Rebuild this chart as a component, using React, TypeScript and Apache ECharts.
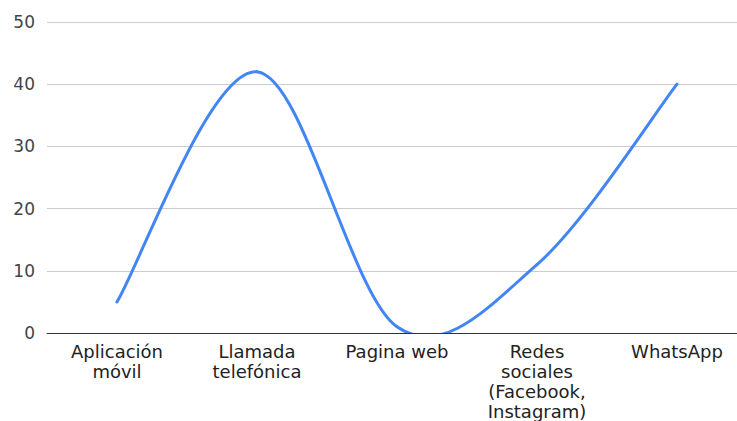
import React, { useEffect, useRef } from "react";
import * as echarts from "echarts";

const categories = [
  "Aplicación\nmóvil",
  "Llamada\ntelefónica",
  "Pagina web",
  "Redes\nsociales\n(Facebook,\nInstagram)",
  "WhatsApp",
];
const values = [5, 42, 1, 11, 40];
const yTicks = { min: 0, max: 50, interval: 10 };

export default function App() {
  const ref = useRef<HTMLDivElement>(null);
  useEffect(() => {
    if (!ref.current) return;
    const chart = echarts.init(ref.current, null, { renderer: "svg" });
    const n = values.length;
    chart.setOption({
      animation: false,
      backgroundColor: "#ffffff",
      grid: { left: 47, top: 22, width: 700, height: 312, containLabel: false },
      xAxis: {
        type: "category",
        data: categories,
        boundaryGap: true,
        axisLine: { show: true, lineStyle: { color: "#333333", width: 1 } },
        axisTick: { show: false },
        axisLabel: {
          interval: 0,
          color: "#222222",
          fontFamily: "DejaVu Sans",
          fontSize: 18,
          lineHeight: 20,
          margin: 8,
        },
        splitLine: { show: false },
        z: 10,
      },
      yAxis: {
        type: "value",
        min: yTicks.min,
        max: yTicks.max,
        interval: yTicks.interval,
        axisLine: { show: false },
        axisTick: { show: false },
        axisLabel: {
          color: "#444444",
          fontFamily: "DejaVu Sans",
          fontSize: 17,
          margin: 12,
        },
        splitLine: { show: true, lineStyle: { color: "#cccccc", width: 1 } },
      },
      series: [
        {
          type: "custom",
          data: values.map((v, i) => [i, v]),
          encode: { x: 0, y: 1 },
          clip: true,
          z: 2,
          renderItem: (params: any, api: any) => {
            const i = params.dataIndex;
            if (i >= n - 1) return { type: "group", children: [] };
            const p = (k: number) => {
              const kk = Math.max(0, Math.min(n - 1, k));
              return api.coord([kk, values[kk]]);
            };
            const p0 = p(i - 1);
            const p1 = p(i);
            const p2 = p(i + 1);
            const p3 = p(i + 2);
            const cs = params.coordSys;
            return {
              type: "bezierCurve",
              shape: {
                x1: p1[0],
                y1: p1[1],
                x2: p2[0],
                y2: p2[1],
                cpx1: p1[0] + (p2[0] - p0[0]) / 6,
                cpy1: p1[1] + (p2[1] - p0[1]) / 6,
                cpx2: p2[0] - (p3[0] - p1[0]) / 6,
                cpy2: p2[1] - (p3[1] - p1[1]) / 6,
              },
              style: { stroke: "#4285f4", lineWidth: 3, fill: null, lineCap: "round" },
              clipPath: {
                type: "rect",
                shape: { x: cs.x, y: cs.y, width: cs.width, height: cs.height },
              },
            };
          },
        },
      ],
    });
    return () => chart.dispose();
  }, []);
  return (
    <div
      style={{
        position: "fixed",
        left: 0,
        top: 0,
        width: 737,
        height: 421,
        overflow: "hidden",
        background: "#ffffff",
      }}
    >
      <div ref={ref} style={{ width: 757, height: 421 }} />
    </div>
  );
}
